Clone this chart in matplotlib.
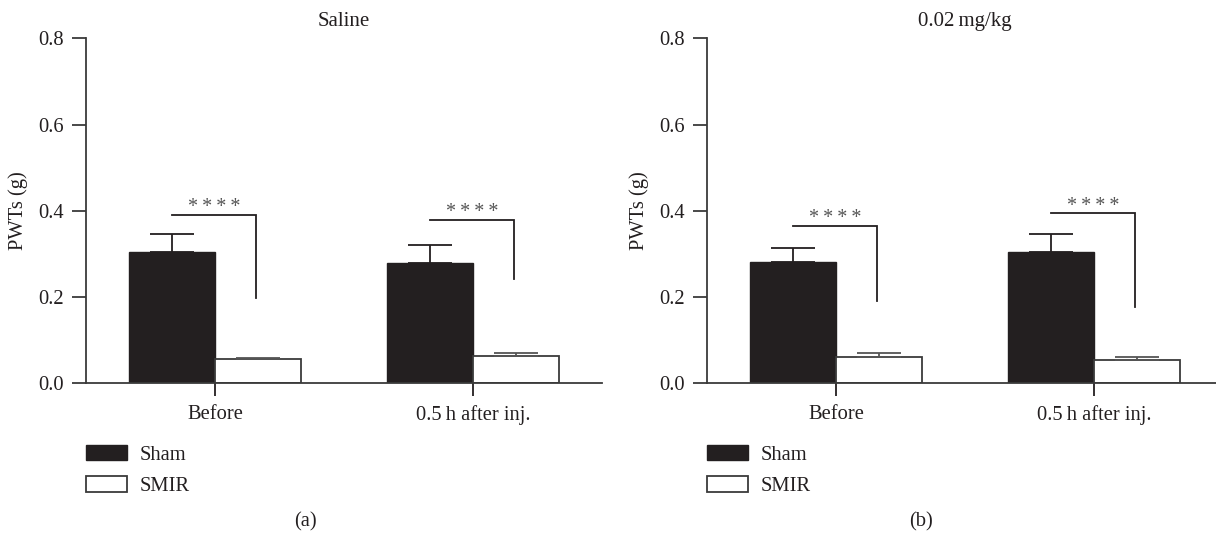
import numpy as np
import matplotlib
matplotlib.use("Agg")
import matplotlib.pyplot as plt
from matplotlib.patches import Patch

plt.rcParams['font.family'] = ['Liberation Serif', 'DejaVu Serif']

# PWTs (g): mean and upper error for each group
categories = ['Before', '0.5\u2009h after inj.']
groups = ['Sham', 'SMIR']
titles = ['Saline', '0.02\u2009mg/kg']
panel_tags = ['(a)', '(b)']

saline_sham = [0.304, 0.278]
saline_sham_err = [0.042, 0.044]
saline_smir = [0.056, 0.063]
saline_smir_err = [0.002, 0.007]

dose_sham = [0.281, 0.304]
dose_sham_err = [0.034, 0.042]
dose_smir = [0.062, 0.054]
dose_smir_err = [0.009, 0.008]

# significance brackets: top of bracket, bottom of the drop line
saline_bracket_top = [0.390, 0.379]
saline_bracket_drop = [0.199, 0.241]
dose_bracket_top = [0.364, 0.394]
dose_bracket_drop = [0.190, 0.178]
sig_label = '*\u2009*\u2009*\u2009*'

W, H = 1216, 534
fig = plt.figure(figsize=(W / 100, H / 100), dpi=100)

ink = '#231f20'
edge = '#3a3a3a'
width = 1 / 3
fs = 14.8


def px_ax(left, right, bottom_px, top_px):
    return fig.add_axes([left / W, 1 - bottom_px / H, (right - left) / W,
                         (bottom_px - top_px) / H])


def panel(ax, title, sham, sham_err, smir, smir_err, btop, bdrop):
    x = np.arange(len(categories))
    ax.bar(x - width / 2, sham, width, color=ink, edgecolor=ink, lw=1.0,
           zorder=2)
    ax.bar(x + width / 2, smir, width, color='white', edgecolor=edge, lw=1.3,
           zorder=2)
    ax.errorbar(x - width / 2, sham, yerr=[np.zeros(2), sham_err], fmt='none',
                ecolor=ink, elinewidth=1.3, capsize=15.5, capthick=1.3,
                zorder=1)
    ax.errorbar(x + width / 2, smir, yerr=[np.zeros(2), smir_err], fmt='none',
                ecolor='#555555', elinewidth=1.3, capsize=15.5, capthick=1.3,
                zorder=3)

    for xi, top, drop in zip(x, btop, bdrop):
        xl, xr = xi - 0.165, xi + 0.16
        ax.plot([xl, xr, xr], [top, top, drop], color=ink, lw=1.3,
                solid_joinstyle='miter', zorder=4)
        ax.annotate(sig_label, ((xl + xr) / 2, top), xytext=(0, -1.5),
                    textcoords='offset points', ha='center', va='bottom',
                    fontsize=14.5, color='#555555')

    ax.set_xlim(-0.5, 1.5)
    ax.set_ylim(0, 0.8)
    ax.set_yticks([0.0, 0.2, 0.4, 0.6, 0.8])
    ax.set_yticklabels(['0.0', '0.2', '0.4', '0.6', '0.8'])
    ax.set_xticks(x)
    ax.set_xticklabels(categories)
    for s in ['top', 'right']:
        ax.spines[s].set_visible(False)
    for s in ['left', 'bottom']:
        ax.spines[s].set_color(edge)
        ax.spines[s].set_linewidth(1.3)
    ax.tick_params(axis='y', direction='out', length=10, width=1.3,
                   color=edge, labelsize=fs, pad=6, labelcolor=ink)
    ax.tick_params(axis='x', direction='out', length=9.5, width=1.3,
                   color=ink, labelsize=fs, pad=6, labelcolor=ink)
    ax.set_ylabel('PWTs (g)', fontsize=fs, color=ink)
    ax.yaxis.set_label_coords(-0.112, 0.5)
    ax.set_title(title, fontsize=15, color=ink, pad=9)

    handles = [Patch(facecolor=ink, edgecolor=ink, lw=1.0),
               Patch(facecolor='white', edgecolor=edge, lw=1.3)]
    ax.legend(handles, groups, loc='upper left', bbox_to_anchor=(0, -0.178),
              frameon=False, fontsize=fs, handlelength=2.0, handleheight=0.8,
              handletextpad=0.6, labelspacing=0.55, borderpad=0,
              borderaxespad=0, labelcolor=ink)


ax_a = px_ax(86, 602, 383.3, 38.5)
panel(ax_a, titles[0], saline_sham, saline_sham_err, saline_smir,
      saline_smir_err, saline_bracket_top, saline_bracket_drop)

ax_b = px_ax(707, 1223, 383.3, 38.5)
panel(ax_b, titles[1], dose_sham, dose_sham_err, dose_smir, dose_smir_err,
      dose_bracket_top, dose_bracket_drop)

fig.text(305 / W, 1 - 522 / H, panel_tags[0], ha='center', va='center',
         fontsize=fs, color=ink)
fig.text(921 / W, 1 - 522 / H, panel_tags[1], ha='center', va='center',
         fontsize=fs, color=ink)

fig.savefig('out.png', dpi=100)
